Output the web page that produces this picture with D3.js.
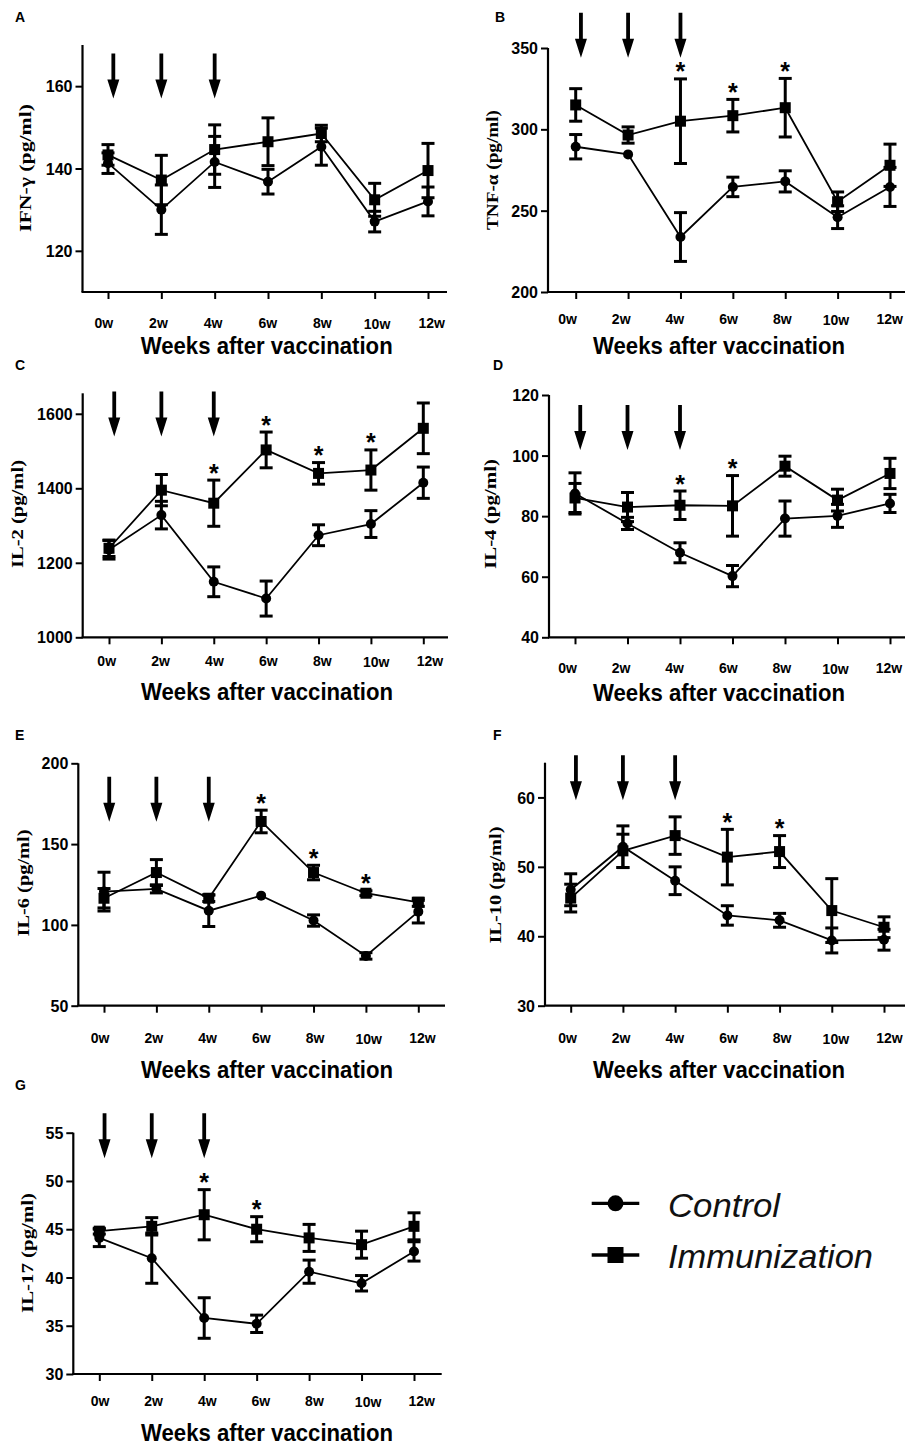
<!DOCTYPE html>
<html>
<head>
<meta charset="utf-8">
<script src="https://cdn.jsdelivr.net/npm/d3@7"></script>
<style>
  html, body { margin: 0; padding: 0; background: #fff; }
  svg { display: block; }
</style>
</head>
<body>
<svg id="chart" width="905" height="1449"></svg>
<script>
// ---------------- DATA ----------------
const weeks = [0, 2, 4, 6, 8, 10, 12];
const weekLabels = ["0w", "2w", "4w", "6w", "8w", "10w", "12w"];
const arrowWeeks = [0.2, 2, 4];

// A: IFN-gamma
const ifnControl    = [141.3, 130.0, 141.6, 136.8, 145.3, 127.1, 132.0];
const ifnControlErr = [2.5, 6.0, 6.2, 3.0, 4.5, 2.5, 3.5];
const ifnImmun      = [143.3, 137.2, 144.6, 146.5, 148.5, 132.4, 139.5];
const ifnImmunErr   = [2.5, 6.0, 6.0, 5.8, 2.0, 4.0, 6.6];
const ifnStars      = [];
const ifnTicks      = [120, 140, 160];

// B: TNF-alpha
const tnfControl    = [289.3, 284.6, 233.8, 264.6, 268.0, 246.0, 264.6];
const tnfControlErr = [7.5, 0, 15, 6, 6.5, 7, 12];
const tnfImmun      = [315.0, 296.5, 305.0, 308.4, 313.3, 255.5, 277.9];
const tnfImmunErr   = [10, 5, 26, 10, 18, 6, 13];
const tnfStars      = [4, 6, 8];
const tnfTicks      = [200, 250, 300, 350];

// C: IL-2
const il2Control    = [1235, 1328, 1149, 1104, 1274, 1304, 1415];
const il2ControlErr = [25, 37, 40, 47, 28, 36, 42];
const il2Immun      = [1239, 1395, 1360, 1503, 1440, 1449, 1561];
const il2ImmunErr   = [22, 42, 62, 48, 29, 54, 68];
const il2Stars      = [4, 6, 8, 10];
const il2Ticks      = [1000, 1200, 1400, 1600];

// D: IL-4
const il4Control    = [87.5, 77.6, 67.9, 60.2, 79.2, 80.1, 84.2];
const il4ControlErr = [6.8, 2.0, 3.3, 3.5, 5.8, 3.8, 3.0];
const il4Immun      = [86.0, 83.0, 83.6, 83.4, 96.5, 85.3, 94.1];
const il4ImmunErr   = [4.8, 4.8, 4.7, 10.0, 3.3, 3.6, 5.0];
const il4Stars      = [4, 6];
const il4Ticks      = [40, 60, 80, 100, 120];

// E: IL-6
const il6Control    = [120.6, 122.3, 108.8, 118.1, 102.7, 80.8, 108.2];
const il6ControlErr = [12, 2.5, 9.8, 0, 3.5, 2, 7];
const il6Immun      = [116.5, 132.4, 116.5, 164.0, 132.4, 119.6, 114.0];
const il6ImmunErr   = [6, 8, 2, 7, 4.5, 1.5, 2.5];
const il6Stars      = [6, 8, 10];
const il6Ticks      = [50, 100, 150, 200];

// F: IL-10
const il10Control    = [46.7, 52.9, 48.0, 43.0, 42.3, 39.4, 39.5];
const il10ControlErr = [2.3, 3.0, 2.0, 1.4, 1.0, 1.8, 1.5];
const il10Immun      = [45.5, 52.3, 54.5, 51.4, 52.2, 43.7, 41.3];
const il10ImmunErr   = [2.0, 2.4, 2.7, 4.0, 2.3, 4.6, 1.5];
const il10Stars      = [6, 8];
const il10Ticks      = [30, 40, 50, 60];

// G: IL-17
const il17Control    = [44.1, 42.0, 35.8, 35.2, 40.6, 39.4, 42.7];
const il17ControlErr = [0.9, 2.6, 2.1, 0.9, 1.2, 0.8, 1.0];
const il17Immun      = [44.8, 45.3, 46.5, 45.0, 44.1, 43.4, 45.3];
const il17ImmunErr   = [0.3, 0.9, 2.6, 1.3, 1.4, 1.4, 1.4];
const il17Stars      = [4, 6];
const il17Ticks      = [30, 35, 40, 45, 50, 55];

const legendNames = ["Control", "Immunization"];
const xTitle = "Weeks after vaccination";

// ---------------- LAYOUT ----------------
const panels = [
  {letter:"A", ylab:"IFN-γ (pg/ml)", ctrl:ifnControl, ctrlErr:ifnControlErr, imm:ifnImmun, immErr:ifnImmunErr, stars:ifnStars, ticks:ifnTicks,
   domain:[110,170], arrowTip:157, ax:82.5, top:45, bottom:292, x0:108, x12:428, xEnd:447, lab0:103.8, lab12:431.7,
   tickBase:328, titleBase:354, titleCx:266.7, ylabCx:25, ylabCy:168, ylabLen:128, letX:15, letBase:22},
  {letter:"B", ylab:"TNF-α (pg/ml)", ctrl:tnfControl, ctrlErr:tnfControlErr, imm:tnfImmun, immErr:tnfImmunErr, stars:tnfStars, ticks:tnfTicks,
   domain:[200,350], arrowTip:344, ax:548, top:48, bottom:292, x0:575.7, x12:890, xEnd:905, lab0:567.5, lab12:889.7,
   tickBase:324, titleBase:354, titleCx:719, ylabCx:491.7, ylabCy:170, ylabLen:120, letX:495, letBase:22},
  {letter:"C", ylab:"IL-2 (pg/ml)", ctrl:il2Control, ctrlErr:il2ControlErr, imm:il2Immun, immErr:il2ImmunErr, stars:il2Stars, ticks:il2Ticks,
   domain:[1000,1655], arrowTip:1539, ax:82.7, top:393.3, bottom:637.3, x0:109, x12:423.3, xEnd:448, lab0:106.7, lab12:430,
   tickBase:666, titleBase:700, titleCx:267, ylabCx:16.5, ylabCy:514, ylabLen:108, letX:15, letBase:370},
  {letter:"D", ylab:"IL-4 (pg/ml)", ctrl:il4Control, ctrlErr:il4ControlErr, imm:il4Immun, immErr:il4ImmunErr, stars:il4Stars, ticks:il4Ticks,
   domain:[40,120], arrowTip:101.8, ax:549, top:395, bottom:637.3, x0:575, x12:890, xEnd:905, lab0:567.5, lab12:889,
   tickBase:673, titleBase:701, titleCx:719, ylabCx:490, ylabCy:514, ylabLen:110, letX:493, letBase:370},
  {letter:"E", ylab:"IL-6 (pg/ml)", ctrl:il6Control, ctrlErr:il6ControlErr, imm:il6Immun, immErr:il6ImmunErr, stars:il6Stars, ticks:il6Ticks,
   domain:[50,200], arrowTip:163.9, ax:78.3, top:763.3, bottom:1005.7, x0:104, x12:418.3, xEnd:445, lab0:100, lab12:422.5,
   tickBase:1042.7, titleBase:1078, titleCx:267, ylabCx:23, ylabCy:883, ylabLen:107, letX:15, letBase:740},
  {letter:"F", ylab:"IL-10 (pg/ml)", ctrl:il10Control, ctrlErr:il10ControlErr, imm:il10Immun, immErr:il10ImmunErr, stars:il10Stars, ticks:il10Ticks,
   domain:[30,65], arrowTip:59.6, ax:545, top:762.7, bottom:1005.7, x0:570.7, x12:884, xEnd:905, lab0:567.5, lab12:889.5,
   tickBase:1042.7, titleBase:1078, titleCx:719, ylabCx:495, ylabCy:885, ylabLen:117, letX:493, letBase:740},
  {letter:"G", ylab:"IL-17 (pg/ml)", ctrl:il17Control, ctrlErr:il17ControlErr, imm:il17Immun, immErr:il17ImmunErr, stars:il17Stars, ticks:il17Ticks,
   domain:[30,55], arrowTip:52.35, ax:73.3, top:1132.7, bottom:1374, x0:99.3, x12:414, xEnd:441.7, lab0:100, lab12:421.7,
   tickBase:1406, titleBase:1441, titleCx:267, ylabCx:26.7, ylabCy:1253, ylabLen:120, letX:15, letBase:1090}
];

const SANS = "'Liberation Sans', Arial, Helvetica, sans-serif";
const SERIF = "'Liberation Serif', 'Times New Roman', serif";

const svg = d3.select("#chart");
svg.append("rect").attr("width", 905).attr("height", 1449).attr("fill", "#fff");

panels.forEach(p => {
  const g = svg.append("g");
  const x = d3.scaleLinear().domain([0, 12]).range([p.x0, p.x12]);
  const xl = d3.scaleLinear().domain([0, 12]).range([p.lab0, p.lab12]);
  const y = d3.scaleLinear().domain(p.domain).range([p.bottom, p.top]);

  // Y axis
  const yAxis = g.append("g").attr("transform", `translate(${p.ax},0)`)
    .call(d3.axisLeft(y).tickValues(p.ticks).tickSize(7).tickPadding(3).tickFormat(d3.format("d")));
  yAxis.select(".domain").attr("stroke", "#000").attr("stroke-width", 2.2)
    .attr("d", `M0,${p.top}V${p.bottom}`);
  yAxis.selectAll(".tick line").attr("stroke", "#000").attr("stroke-width", 2);
  yAxis.selectAll(".tick text").attr("fill", "#000").attr("font-family", SANS)
    .attr("font-weight", "bold").attr("font-size", 16).attr("dy", "0.35em");

  // X axis (ticks only; labels drawn on their own positions)
  const xAxis = g.append("g").attr("transform", `translate(0,${p.bottom})`)
    .call(d3.axisBottom(x).tickValues(weeks).tickSize(7).tickFormat(""));
  xAxis.select(".domain").attr("stroke", "#000").attr("stroke-width", 2.2)
    .attr("d", `M${p.ax - 1},0H${p.xEnd}`);
  xAxis.selectAll(".tick line").attr("stroke", "#000").attr("stroke-width", 2);

  g.append("g").selectAll("text").data(weeks).join("text")
    .attr("x", d => xl(d))
    .attr("y", (d, i) => p.tickBase + (weekLabels[i] === "10w" ? 1 : 0))
    .attr("text-anchor", "middle")
    .attr("font-family", SANS).attr("font-weight", "bold").attr("font-size", 14)
    .text((d, i) => weekLabels[i]);

  // X title
  g.append("text").attr("x", p.titleCx).attr("y", p.titleBase)
    .attr("text-anchor", "middle").attr("font-family", SANS).attr("font-weight", "bold")
    .attr("font-size", 24).attr("textLength", 252).attr("lengthAdjust", "spacingAndGlyphs")
    .text(xTitle);

  // Y label
  g.append("text")
    .attr("transform", `translate(${p.ylabCx + 6},${p.ylabCy}) rotate(-90)`)
    .attr("text-anchor", "middle").attr("font-family", SERIF).attr("font-weight", "bold")
    .attr("font-size", 17).attr("textLength", p.ylabLen).attr("lengthAdjust", "spacingAndGlyphs")
    .text(p.ylab);

  // Panel letter
  g.append("text").attr("x", p.letX).attr("y", p.letBase)
    .attr("font-family", SANS).attr("font-weight", "bold").attr("font-size", 14)
    .text(p.letter);

  // Arrows
  const tipY = y(p.arrowTip);
  g.append("g").selectAll("path").data(arrowWeeks).join("path")
    .attr("d", d => {
      const cx = x(d), L = 45, hh = 19, hw = 6, sw = 1.9;
      return `M${cx - sw},${tipY - L}H${cx + sw}V${tipY - hh}H${cx + hw}L${cx},${tipY}L${cx - hw},${tipY - hh}H${cx - sw}Z`;
    })
    .attr("fill", "#000");

  const series = [
    {vals: p.ctrl, err: p.ctrlErr, shape: "circle"},
    {vals: p.imm, err: p.immErr, shape: "square"}
  ];

  // Lines
  const line = d3.line().x((d, i) => x(weeks[i])).y(d => y(d));
  series.forEach(s => {
    g.append("path").datum(s.vals).attr("d", line)
      .attr("fill", "none").attr("stroke", "#000").attr("stroke-width", 1.8);
  });

  // Error bars
  series.forEach(s => {
    const eb = g.append("g").attr("stroke", "#000").attr("stroke-width", 3).attr("fill", "none");
    s.vals.forEach((v, i) => {
      const e = s.err[i];
      if (!e) return;
      const cx = x(weeks[i]);
      const y1 = y(v + e), y2 = y(v - e);
      eb.append("line").attr("x1", cx).attr("x2", cx).attr("y1", y1).attr("y2", y2);
      eb.append("line").attr("x1", cx - 6.5).attr("x2", cx + 6.5).attr("y1", y1).attr("y2", y1);
      eb.append("line").attr("x1", cx - 6.5).attr("x2", cx + 6.5).attr("y1", y2).attr("y2", y2);
    });
  });

  // Markers
  series.forEach(s => {
    if (s.shape === "circle") {
      g.append("g").selectAll("circle").data(s.vals).join("circle")
        .attr("cx", (d, i) => x(weeks[i])).attr("cy", d => y(d)).attr("r", 5).attr("fill", "#000");
    } else {
      g.append("g").selectAll("rect").data(s.vals).join("rect")
        .attr("x", (d, i) => x(weeks[i]) - 5.5).attr("y", d => y(d) - 5.5)
        .attr("width", 11).attr("height", 11).attr("fill", "#000");
    }
  });

  // Significance stars
  g.append("g").selectAll("text").data(p.stars).join("text")
    .attr("x", d => x(d))
    .attr("y", d => {
      const i = weeks.indexOf(d);
      return y(p.imm[i] + p.immErr[i]) + 1.5;
    })
    .attr("text-anchor", "middle").attr("font-family", SANS).attr("font-weight", "bold").attr("font-size", 25)
    .text("*");
});

// Legend
const legend = svg.append("g");
const legendY = [1203.3, 1255];
const legendBase = [1216.5, 1268];
legendNames.forEach((name, i) => {
  legend.append("line").attr("x1", 591.7).attr("x2", 639.3).attr("y1", legendY[i]).attr("y2", legendY[i])
    .attr("stroke", "#000").attr("stroke-width", 3.3);
  if (i === 0) {
    legend.append("circle").attr("cx", 615.5).attr("cy", legendY[i]).attr("r", 8).attr("fill", "#000");
  } else {
    legend.append("rect").attr("x", 607.5).attr("y", legendY[i] - 8).attr("width", 16).attr("height", 16).attr("fill", "#000");
  }
  legend.append("text").attr("x", 668).attr("y", legendBase[i])
    .attr("font-family", SANS).attr("font-style", "italic").attr("font-size", 33)
    .attr("fill", "#111")
    .attr("textLength", i === 0 ? 112 : 205).attr("lengthAdjust", "spacingAndGlyphs")
    .text(name);
});
</script>
</body>
</html>
